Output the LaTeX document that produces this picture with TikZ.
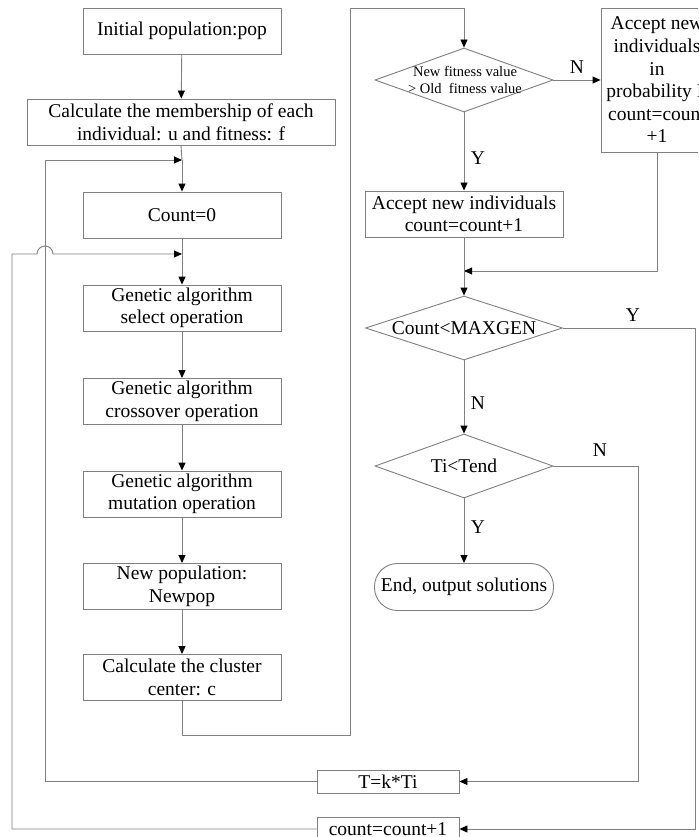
\documentclass[tikz,border=0pt]{standalone}
\usepackage{fontspec}
\setmainfont{Liberation Serif}
\usetikzlibrary{arrows.meta,shapes.geometric}
\definecolor{ln}{RGB}{128,128,128}
\newcommand\myfs{\fontsize{19.5}{22.6}\selectfont}
\newcommand\mysmallfs{\fontsize{14.5}{17}\selectfont}
\begin{document}
\begin{tikzpicture}[x=1pt,y=-1pt,
  conn/.style={draw=ln,line width=0.9pt},
  arr/.style={conn,-{Triangle[length=8pt,width=7pt,color=black]}},
  box/.style={draw=ln,line width=0.9pt,rectangle,inner sep=1pt,align=center,font=\myfs,minimum width=198pt,minimum height=46pt},
  dia/.style={diamond,draw=ln,line width=0.9pt,inner sep=0pt,minimum width=178pt,minimum height=64pt},
  txt/.style={inner sep=0pt,align=center,font=\myfs},
  lab/.style={inner sep=0pt,font=\myfs}]
\clip (0,0) rectangle (698,837);
\fill[white] (0,0) rectangle (698,837);
% left column
\node[box] (init) at (182,31) {Initial population:pop};
\node[box,minimum width=308pt,minimum height=46pt] (memb) at (181,122) {Calculate the membership of each\\individual: u and fitness: f};
\node[box] (count0) at (182,215) {Count=0};
\node[box] (select) at (182,308) {Genetic algorithm\\select operation};
\node[box] (cross) at (182,401.5) {Genetic algorithm\\crossover operation};
\node[box] (mut) at (182,494) {Genetic algorithm\\mutation operation};
\node[box] (newpop) at (182,586.5) {New population:\\Newpop};
\node[box] (cluster) at (182,677.5) {Calculate the cluster\\center: c};
% right column
\node[dia] (d1) at (464,80) {};
\node[txt,font=\mysmallfs] (d1t) at (465,80) {New fitness value\\\textgreater{} Old\ \ fitness value};
\node[box,minimum width=112pt,minimum height=144pt] (acc) at (657,80) {Accept new\\individuals\\in\\probability P\\count=count\\+1};
\node[box] (accnew) at (464,214) {Accept new individuals\\count=count+1};
\node[dia,minimum width=197pt] (d2) at (464,328) {};
\node[txt] (d2t) at (464,328) {Count\textless MAXGEN};
\node[dia] (d3) at (464,466) {};
\node[txt] (d3t) at (464,466) {Ti\textless Tend};
\node[box,minimum width=179pt,minimum height=47pt,rounded corners=23pt] (end) at (464,587) {End, output solutions};
\node[box,minimum width=142pt,minimum height=23pt] (tk) at (388,781.5) {T=k*Ti};
\node[box,minimum width=142pt,minimum height=24pt] (cnt) at (388,829) {count=count+1};
% coordinates
\coordinate (j1) at (182,160);
\coordinate (j2) at (182,254);
\coordinate (j3) at (464,271);
% connectors left
\draw[arr] (init) -- (memb);
\draw[conn] (memb.south) -- (j1);
\draw[arr] (j1) -- (count0.north);
\draw[conn] (count0.south) -- (j2);
\draw[arr] (j2) -- (select.north);
\draw[arr] (select) -- (cross);
\draw[arr] (cross) -- (mut);
\draw[arr] (mut) -- (newpop);
\draw[arr] (newpop) -- (cluster);
\draw[arr] (tk.west) -- (45,781.5) -- (45,160) -- (j1);
\draw[arr] (cnt.west) -- (12,829) -- (12,254) -- (37,254) arc[start angle=180,end angle=0,radius=8pt] -- (j2);
% connectors right
\draw[arr] (cluster.south) |- (350,735) |- (464,8) -- (d1.north);
\draw[arr] (d1.east) -- (acc.west);
\draw[arr] (d1.south) -- (accnew.north);
\draw[arr] (acc.south) |- (j3);
\draw[conn] (accnew.south) -- (j3);
\draw[arr] (j3) -- (d2.north);
\draw[arr] (d2.east) -| (695,829) -- (cnt.east);
\draw[arr] (d2.south) -- (d3.north);
\draw[arr] (d3.east) -| (638,781.5) -- (tk.east);
\draw[arr] (d3.south) -- (end.north);
% labels
\node[lab] (lN1) at (577,67) {N};
\node[lab] (lY1) at (478,158) {Y};
\node[lab] (lY2) at (633,315) {Y};
\node[lab] (lN2) at (478,403) {N};
\node[lab] (lN3) at (600,450) {N};
\node[lab] (lY3) at (478,527) {Y};
\end{tikzpicture}
\end{document}
